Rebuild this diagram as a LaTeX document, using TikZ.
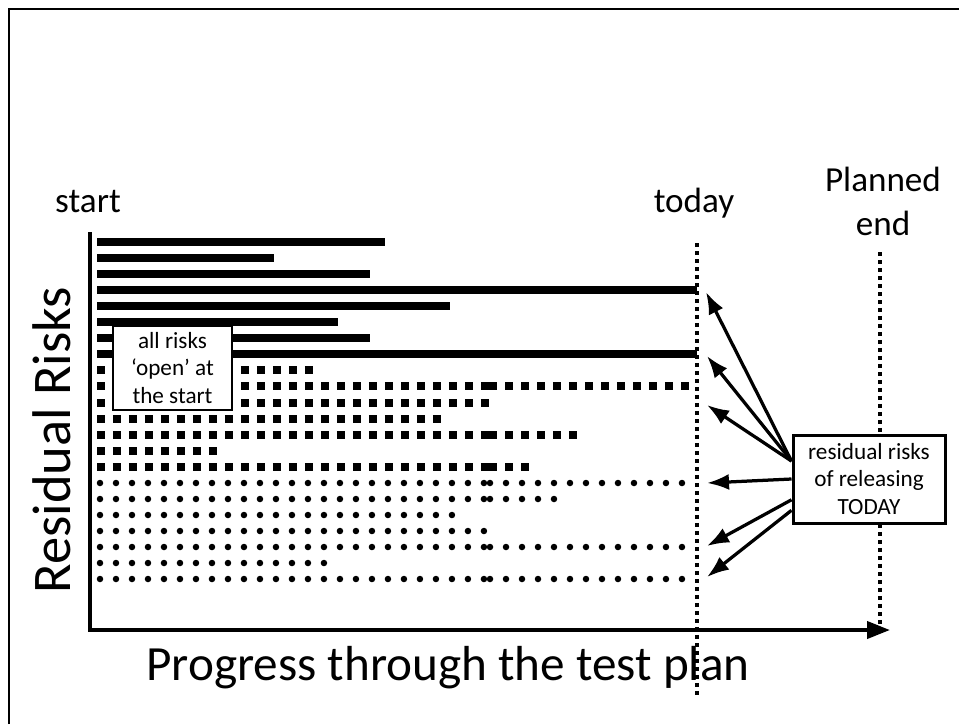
\documentclass[tikz,border=0pt]{standalone}
\usepackage{fontspec}
\setmainfont{Carlito}
\usepackage{tikz}
\usetikzlibrary{positioning,arrows.meta}

\tikzset{
  solidrow/.style={line width=0.165cm},
  squarerow/.style={line width=0.17cm, dash pattern=on 0.16cm off 0.16cm},
  dotrow/.style={line width=0.13cm, line cap=round, dash pattern=on 0pt off 0.32cm},
  marker/.style={line width=0.07cm, dash pattern=on 0.08cm off 0.08cm},
  pointer/.style={line width=0.065cm, -{Latex[length=0.44cm,width=0.32cm]}},
  heading/.style={font=\fontsize{20}{25}\selectfont},
  axislabel/.style={font=\fontsize{28}{30}\selectfont},
  notebox/.style={draw, fill=white, align=center, inner sep=0pt,
    font=\fontsize{13.2}{15.5}\selectfont}
}

\begin{document}
\begin{tikzpicture}[x=0.02cm, y=-0.02cm]
  \useasboundingbox (0,0) rectangle (959,724);
  % frame
  \draw[line width=0.04cm] (9,724) -- (9,9) -- (959,9);

  % Solid bars
  \foreach \y/\e in {242/385, 258/274, 274/370, 290/697, 306/450, 322/338, 338/370, 354/697}
    \draw[solidrow] (97,\y) -- (\e,\y);

  % Square dotted rows (first part)
  \foreach \y/\e in {370/313, 386/489, 403/489, 419/441, 435/489, 451/217, 467/489}
    \draw[squarerow] (97,\y) -- (\e,\y);
  % Square dotted rows (second part)
  \foreach \y/\e in {386/689, 435/577, 467/529}
    \draw[squarerow] (489,\y) -- (\e,\y);

  % Round dotted rows (first part)
  \foreach \y/\e in {483/485, 499/485, 515/453, 531/485, 547/485, 563/325, 579/485}
    \draw[dotrow] (100,\y) -- (\e,\y);
  % Round dotted rows (second part)
  \foreach \y/\e in {483/683, 499/555, 547/683, 579/683}
    \draw[dotrow] (490,\y) -- (\e,\y);

  % Axes
  \draw[line width=0.08cm] (90,232) -- (90,632);
  \draw[line width=0.08cm, -{Triangle[length=0.46cm,width=0.34cm]}] (88,630) -- (890,630);

  % today and planned end
  \draw[marker] (697,243) -- (697,698);
  \draw[marker] (880,252) -- (880,626);

  % Labels
  \node[heading, anchor=base] (start) at (88,212) {start};
  \node[heading, anchor=base] (today) at (694,212) {today};
  \node[heading, align=center] (plannedend) at (883,201) {Planned\\end};
  \node[axislabel, rotate=90, font=\fontsize{31}{33}\selectfont] (ylabel) at (52,440) {Residual Risks};
  \node[axislabel] (xlabel) at (448,668) {Progress through the test plan};

  % Boxes
  \node[notebox, line width=0.045cm, minimum width=2.38cm, minimum height=1.68cm] (openbox) at (172.5,368)
    {all risks\\‘open’ at\\the start};
  \node[notebox, line width=0.06cm, minimum width=3.04cm, minimum height=1.76cm] (rbox) at (869,479)
    {residual risks\\of releasing\\TODAY};

  % Arrows to the residual risks
  \coordinate (t1) at (706,292);
  \coordinate (t2) at (707,356);
  \coordinate (t3) at (707,405);
  \coordinate (t4) at (707,483);
  \coordinate (t5) at (707,546);
  \coordinate (t6) at (707,577);
  \draw[pointer] (rbox.167) -- (t1);
  \draw[pointer] (rbox.167) -- (t2);
  \draw[pointer] (rbox.167) -- (t3);
  \draw[pointer] (rbox.west) -- (t4);
  \draw[pointer] (rbox.195) -- (t5);
  \draw[pointer] (rbox.202) -- (t6);
\end{tikzpicture}
\end{document}
